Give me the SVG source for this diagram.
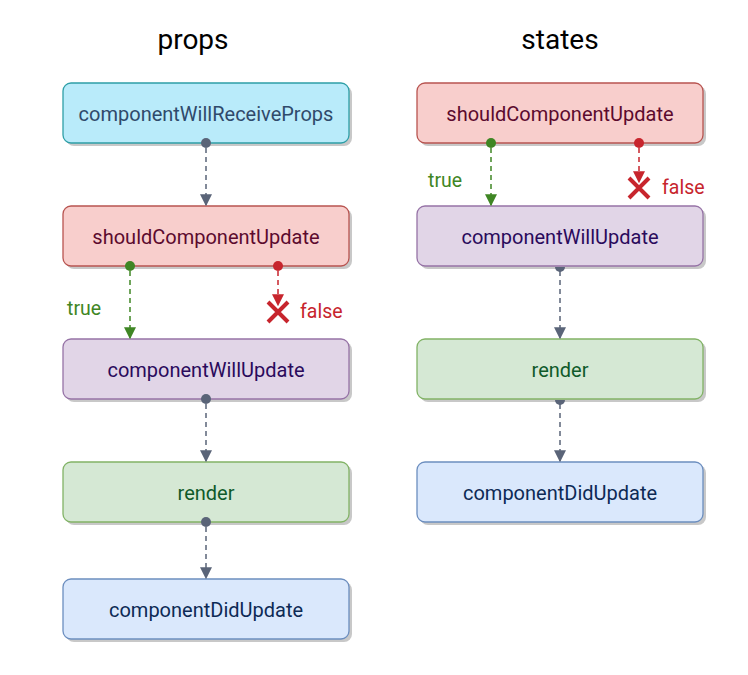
<svg xmlns="http://www.w3.org/2000/svg" width="748" height="675" viewBox="0 0 748 675">
<defs>
<style>
.t{font-family:Roboto,"Liberation Sans",sans-serif;font-size:20px;text-anchor:middle}
.h{font-family:Roboto,"Liberation Sans",sans-serif;font-size:28px;text-anchor:middle;fill:#000}
.sh{fill:#c8c8c8}
.c{fill:none;stroke:#5a6478;stroke-width:1.5;stroke-dasharray:5 4}
.cg{fill:none;stroke:#3f8624;stroke-width:1.5;stroke-dasharray:5 4}
.cr{fill:none;stroke:#c7252d;stroke-width:1.5;stroke-dasharray:5 4}
.lbl{font-family:Roboto,"Liberation Sans",sans-serif;font-size:19.5px}
</style>
<marker id="ag" viewBox="0 0 10 10" refX="9" refY="5" markerWidth="12" markerHeight="12" markerUnits="userSpaceOnUse" orient="auto"><path d="M0,0 L10,5 L0,10 z" fill="#5a6478"/></marker>
<marker id="agr" viewBox="0 0 10 10" refX="9" refY="5" markerWidth="12" markerHeight="12" markerUnits="userSpaceOnUse" orient="auto"><path d="M0,0 L10,5 L0,10 z" fill="#3f8624"/></marker>
<marker id="arr" viewBox="0 0 10 10" refX="9" refY="5" markerWidth="12" markerHeight="12" markerUnits="userSpaceOnUse" orient="auto"><path d="M0,0 L10,5 L0,10 z" fill="#c7252d"/></marker>
</defs>
<rect width="748" height="675" fill="#fff"/>
<text class="h" x="193" y="49">props</text>
<text class="h" x="560" y="49">states</text>

<g id="p-cwrp">
<rect class="sh" x="66" y="86" width="286" height="60" rx="8"/>
<rect x="63" y="83" width="286" height="60" rx="8" fill="#b9ebfa" stroke="#2e9fa7" stroke-width="1.3"/>
<text class="t" x="206" y="121" fill="#2f4a6b">componentWillReceiveProps</text>
</g>
<g id="p-scu">
<rect class="sh" x="66" y="209" width="286" height="60" rx="8"/>
<rect x="63" y="206" width="286" height="60" rx="8" fill="#f8cecc" stroke="#b85450" stroke-width="1.3"/>
<text class="t" x="206" y="244" fill="#5c0a2e">shouldComponentUpdate</text>
</g>
<g id="p-cwu">
<rect class="sh" x="66" y="342" width="286" height="60" rx="8"/>
<rect x="63" y="339" width="286" height="60" rx="8" fill="#e1d5e7" stroke="#9673a6" stroke-width="1.3"/>
<text class="t" x="206" y="377" fill="#2a0a5c">componentWillUpdate</text>
</g>
<g id="p-render">
<rect class="sh" x="66" y="465" width="286" height="60" rx="8"/>
<rect x="63" y="462" width="286" height="60" rx="8" fill="#d5e8d4" stroke="#82b366" stroke-width="1.3"/>
<text class="t" x="206" y="500" fill="#0f5a2a">render</text>
</g>
<g id="p-cdu">
<rect class="sh" x="66" y="582" width="286" height="60" rx="8"/>
<rect x="63" y="579" width="286" height="60" rx="8" fill="#dae8fc" stroke="#6c8ebf" stroke-width="1.3"/>
<text class="t" x="206" y="617" fill="#0d2a55">componentDidUpdate</text>
</g>

<g id="s-scu">
<rect class="sh" x="420" y="86" width="286" height="60" rx="8"/>
<rect x="417" y="83" width="286" height="60" rx="8" fill="#f8cecc" stroke="#b85450" stroke-width="1.3"/>
<text class="t" x="560" y="121" fill="#5c0a2e">shouldComponentUpdate</text>
</g>
<g id="s-cwu">
<rect class="sh" x="420" y="209" width="286" height="60" rx="8"/>
<rect x="417" y="206" width="286" height="60" rx="8" fill="#e1d5e7" stroke="#9673a6" stroke-width="1.3"/>
<text class="t" x="560" y="244" fill="#2a0a5c">componentWillUpdate</text>
</g>
<g id="s-render">
<rect class="sh" x="420" y="342" width="286" height="60" rx="8"/>
<rect x="417" y="339" width="286" height="60" rx="8" fill="#d5e8d4" stroke="#82b366" stroke-width="1.3"/>
<text class="t" x="560" y="377" fill="#0f5a2a">render</text>
</g>
<g id="s-cdu">
<rect class="sh" x="420" y="465" width="286" height="60" rx="8"/>
<rect x="417" y="462" width="286" height="60" rx="8" fill="#dae8fc" stroke="#6c8ebf" stroke-width="1.3"/>
<text class="t" x="560" y="500" fill="#0d2a55">componentDidUpdate</text>
</g>

<g id="connectors">
<circle cx="206" cy="143" r="5" fill="#5a6478"/>
<path class="c" d="M206,148 V205" marker-end="url(#ag)"/>
<circle cx="130" cy="266" r="5" fill="#3f8624"/>
<path class="cg" d="M130,271 V338" marker-end="url(#agr)"/>
<circle cx="278" cy="266" r="5" fill="#c7252d"/>
<path class="cr" d="M278,271 V305" marker-end="url(#arr)"/>
<path d="M268,302 L288,322 M288,302 L268,322" stroke="#c7252d" stroke-width="4"/>
<text class="lbl" x="67" y="315" fill="#3f8624">true</text>
<text class="lbl" x="300" y="318" fill="#c7252d">false</text>
<circle cx="206" cy="399" r="5" fill="#5a6478"/>
<path class="c" d="M206,404 V461" marker-end="url(#ag)"/>
<circle cx="206" cy="522" r="5" fill="#5a6478"/>
<path class="c" d="M206,527 V578" marker-end="url(#ag)"/>

<circle cx="491" cy="143" r="5" fill="#3f8624"/>
<path class="cg" d="M491,148 V205" marker-end="url(#agr)"/>
<circle cx="639" cy="143" r="5" fill="#c7252d"/>
<path class="cr" d="M639,148 V182" marker-end="url(#arr)"/>
<path d="M629,178 L649,198 M649,178 L629,198" stroke="#c7252d" stroke-width="4"/>
<text class="lbl" x="428" y="187" fill="#3f8624">true</text>
<text class="lbl" x="662" y="194" fill="#c7252d">false</text>
<path d="M555,267 A5,5 0 0 0 565,267 z" fill="#5a6478"/>
<path class="c" d="M560,271 V338" marker-end="url(#ag)"/>
<path d="M555,400 A5,5 0 0 0 565,400 z" fill="#5a6478"/>
<path class="c" d="M560,404 V461" marker-end="url(#ag)"/>
</g>
</svg>
